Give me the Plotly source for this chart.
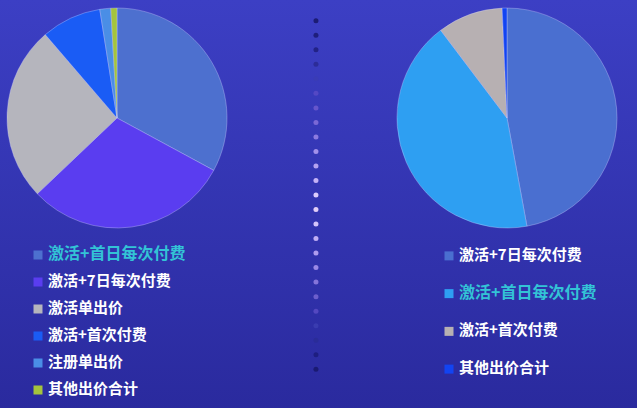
import plotly.graph_objects as go

# left pie
left_labels = ["激活+首日每次付费", "激活+7日每次付费", "激活单出价", "激活+首次付费", "注册单出价", "其他出价合计"]
left_values = [32.9, 30.0, 25.8, 8.8, 1.6, 0.9]
left_colors = ["#4d70cf", "#5a3df0", "#b5b5bd", "#1a5cf5", "#4a8ee6", "#a4c43c"]

# right pie
right_labels = ["激活+7日每次付费", "激活+首日每次付费", "激活+首次付费", "其他出价合计"]
right_values = [47.1, 42.6, 9.6, 0.7]
right_colors = ["#4a6fd0", "#2e9ff2", "#b7b0b2", "#1244f2"]

# highlighted legend entry in each legend
left_highlight = 0
right_highlight = 1

# decorative dotted divider
dot_colors = ["#1c1c74", "#1e1e7c", "#222286", "#2c2c98", "#3a3cb6", "#5448c4",
              "#6656cc", "#7a68d6", "#8c7ae0", "#a290ea", "#b4a2f0", "#c4b2f6",
              "#dcccfc", "#e2cef8", "#d4c4fa", "#c0aef4", "#ae9cee", "#9a88e6",
              "#8474da", "#6c5ecc", "#5448c0", "#3a3cb0", "#2a2c98", "#1e1e80", "#1a1a72"]

HL = "#33c3d6"
FONT = "Noto Sans CJK SC"

fig = go.Figure()

# background gradient (first subplot so it sits underneath)
fig.add_trace(go.Scatter(
    x=[0, 1, 1, 0, 0], y=[0, 0, 1, 1, 0], mode="lines", fill="toself",
    line=dict(width=0), fillgradient=dict(type="vertical", colorscale=[[0, "#2a2a9e"], [1, "#3c3fc4"]]),
    xaxis="x", yaxis="y", hoverinfo="skip", showlegend=False))

# dotted divider
fig.add_trace(go.Scatter(
    x=[0.496] * len(dot_colors), y=list(range(len(dot_colors))), mode="markers",
    marker=dict(size=5, color=dot_colors), xaxis="x2", yaxis="y2",
    hoverinfo="skip", showlegend=False))

pie_line = dict(color="rgba(210,210,255,0.35)", width=1)
fig.add_trace(go.Pie(
    labels=left_labels, values=left_values, sort=False, direction="clockwise",
    marker=dict(colors=left_colors, line=pie_line), textinfo="none", hoverinfo="skip",
    domain=dict(x=[7 / 637, 227 / 637], y=[1 - 228 / 408, 1 - 8 / 408]), showlegend=False))
fig.add_trace(go.Pie(
    labels=right_labels, values=right_values, sort=False, direction="clockwise",
    marker=dict(colors=right_colors, line=pie_line), textinfo="none", hoverinfo="skip",
    domain=dict(x=[397 / 637, 617 / 637], y=[1 - 228 / 408, 1 - 8 / 408]), showlegend=False))


def legend_traces(labels, colors, hl, xa, ya):
    n = len(labels)
    rows = list(range(n))
    swatch = go.Scatter(
        x=[0] * n, y=rows, mode="markers",
        marker=dict(symbol="square", size=9, color=colors, line=dict(width=0)),
        xaxis=xa, yaxis=ya, hoverinfo="skip", showlegend=False, cliponaxis=False)
    text = go.Scatter(
        x=[1.0] * n, y=rows, mode="text",
        text=["<b>%s</b>" % t for t in labels], textposition="middle right",
        textfont=dict(family=FONT, size=[16 if i == hl else 15 for i in rows],
                      color=[HL if i == hl else "white" for i in rows]),
        xaxis=xa, yaxis=ya, hoverinfo="skip", showlegend=False, cliponaxis=False)
    return [swatch, text]


fig.add_traces(legend_traces(left_labels, left_colors, left_highlight, "x3", "y3"))
fig.add_traces(legend_traces(right_labels, right_colors, right_highlight, "x4", "y4"))

hidden = dict(visible=False, fixedrange=True)
fig.update_layout(
    width=637, height=408, margin=dict(l=0, r=0, t=0, b=0),
    paper_bgcolor="#3335b4", plot_bgcolor="rgba(0,0,0,0)",
    font=dict(family=FONT),
    xaxis=dict(domain=[0, 1], range=[0, 1], **hidden),
    yaxis=dict(domain=[0, 1], range=[0, 1], **hidden),
    xaxis2=dict(domain=[0, 1], range=[0, 1], **hidden),
    yaxis2=dict(domain=[1 - 376.5 / 408, 1 - 13.5 / 408], range=[24.5, -0.5], **hidden),
    xaxis3=dict(domain=[28 / 637, 300 / 637], range=[-1, 26.2], **hidden),
    yaxis3=dict(domain=[1 - 403.5 / 408, 1 - 241.5 / 408], range=[5.5, -0.5], **hidden),
    xaxis4=dict(domain=[439 / 637, 637 / 637], range=[-1, 18.8], **hidden),
    yaxis4=dict(domain=[1 - 388 / 408, 1 - 237 / 408], range=[3.5, -0.5], **hidden),
)

fig.write_html("out.html", config={"displayModeBar": False},
               post_script="document.body.style.margin='0';")
